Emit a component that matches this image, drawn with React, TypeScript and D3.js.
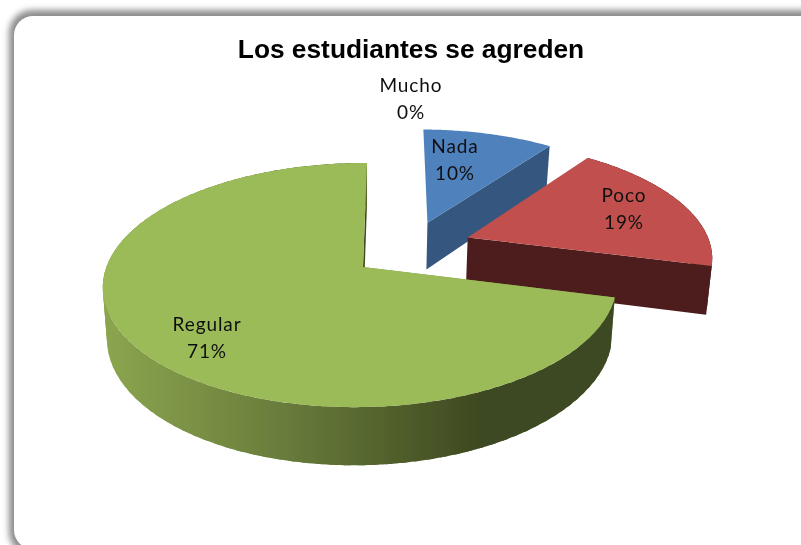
import React from "react";
import * as d3 from "d3";

const categories = ["Nada", "Poco", "Mucho", "Regular"];
const percents = [10, 19, 0, 71];
const title = "Los estudiantes se agreden";
const topColors = ["#4f81bd", "#c0504d", "#8064a2", "#9bbb59"];
const wallColors = ["#34577f", "#4e1f1e", "#55436d", "#40491f"];
// explosion offset of each slice, in pie radii
const explodeX = [0.262, 0.425, 0, 0];
const explodeY = [0.392, 0.258, 0, 0];
const labelX = [455, 624, 411, 207];
const labelY = [153, 202, 92, 331];

const W = 801, H = 545;
const CX = 363, CY = 267, RX = 254, RY = 119.4, DEPTH = 49.5;
const P = 0.148, Q = 0.01, SHEAR = 4.6, SHRINK = 0.016;

function project(x: number, y: number, z: number): [number, number] {
  const k = 1 / (1 + P * y + Q * x);
  const s = 1 - SHRINK * z;
  return [CX + (RX * x + SHEAR * y) * k * s, CY - RY * y * k + DEPTH * k * z];
}

const line = d3.line<[number, number]>().curve(d3.curveLinear);

function rim(i: number, a0: number, a1: number, z: number): [number, number][] {
  const n = Math.max(2, Math.ceil(Math.abs(a1 - a0) / 0.012));
  const angle = d3.scaleLinear().domain([0, n]).range([a0, a1]);
  return d3.range(n + 1).map((t) => {
    const a = angle(t);
    return project(explodeX[i] + Math.sin(a), explodeY[i] + Math.cos(a), z);
  });
}
const apex = (i: number, z: number) => project(explodeX[i], explodeY[i], z);

export default function App() {
  const arcs = d3.pie<number>().sort(null)(percents);
  const drawOrder = [0, 1, 3];
  return (
    <svg width={W} height={H} viewBox={`0 0 ${W} ${H}`} style={{ position: "fixed", left: 0, top: 0, background: "#fff" }}>
      <defs>
        <filter id="sh" x="-5%" y="-5%" width="110%" height="110%">
          <feGaussianBlur stdDeviation="3" />
        </filter>
        <filter id="soft" x="-5%" y="-5%" width="110%" height="110%">
          <feGaussianBlur stdDeviation="0.5" />
        </filter>
        <linearGradient id="greenWall" gradientUnits="userSpaceOnUse" x1="102" x2="480" y1="0" y2="0">
          <stop offset="0" stopColor="#8ca64f" />
          <stop offset="0.5" stopColor="#677a3a" />
          <stop offset="1" stopColor="#3e4920" />
        </linearGradient>
      </defs>
      <rect x={9} y={10} width={900} height={545} rx={23} fill="#8c8c8c" filter="url(#sh)" />
      <rect x={14} y={16} width={900} height={533} rx={19} fill="#fff" />
      <g filter="url(#soft)">
        {drawOrder.map((i) => {
          const { startAngle: a0, endAngle: a1 } = arcs[i];
          const topRim = rim(i, a0, a1, 0);
          const lowRim = rim(i, a0, a1, 1);
          const last = topRim.length - 1;
          const topPts: [number, number][] = [apex(i, 0), ...topRim];
          const faceEnd: [number, number][] = [apex(i, 0), topRim[last], lowRim[last], apex(i, 1)];
          const faceStart: [number, number][] = [apex(i, 0), topRim[0], lowRim[0], apex(i, 1)];
          const wallFill = i === 3 ? "url(#greenWall)" : wallColors[i];
          return (
            <g key={categories[i]}>
              {i === 3 && <path d={line(faceStart) + "Z"} fill="#7f9a47" />}
              <path d={line(faceEnd) + "Z"} fill={wallColors[i]} />
              {i !== 0 &&
                d3.range(0, last, 4).map((t) => {
                  const e = Math.min(last, t + 6);
                  const strip = [...topRim.slice(t, e + 1), ...lowRim.slice(t, e + 1).reverse()];
                  return <path key={t} d={line(strip) + "Z"} fill={wallFill} />;
                })}
              <path d={line(topPts) + "Z"} fill={topColors[i]} />
            </g>
          );
        })}
        <text x={411} y={58} textAnchor="middle" fontFamily="'Liberation Sans', Arial, sans-serif" fontWeight="bold" fontSize={26.3} fill="#000">
          {title}
        </text>
        {percents.map((v, i) => (
          <text key={categories[i]} textAnchor="middle" fontFamily="Lato, sans-serif" fontSize={19} letterSpacing={0.9} fill="#111">
            <tspan x={labelX[i]} y={labelY[i]}>{categories[i]}</tspan>
            <tspan x={labelX[i]} y={labelY[i] + 27}>{v}%</tspan>
          </text>
        ))}
      </g>
    </svg>
  );
}
